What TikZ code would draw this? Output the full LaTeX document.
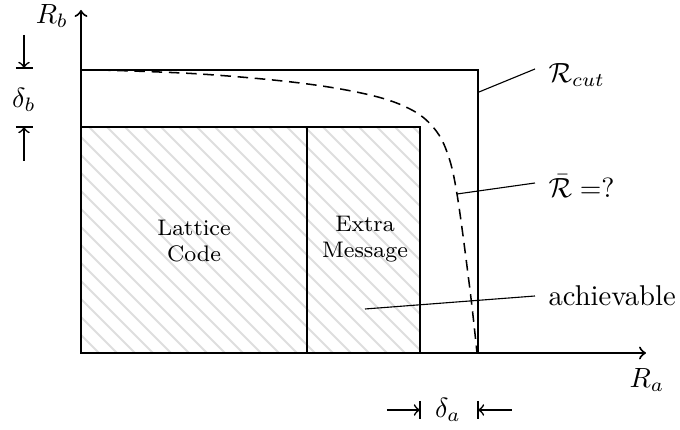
\documentclass[tikz,border=0pt]{standalone}
\usepackage{amsmath}
\begin{document}
\begin{tikzpicture}[x=0.36pt,y=-0.36pt,
  axis/.style={line width=0.75pt,->,>=to},
  box/.style={line width=0.95pt},
  leader/.style={line width=0.4pt},
  hatch/.style={line width=0.75pt,black!13},
  dim/.style={line width=0.6pt,->,>=to},
  lab/.style={font=\fontsize{10.3}{12.5}\selectfont,inner sep=0pt},
  inlab/.style={font=\fontsize{8.1}{9.3}\selectfont,align=center,inner sep=0pt}]
\useasboundingbox (0,0) rectangle (680,430);
% hatching
\begin{scope}
  \clip (81,127) rectangle (420,353);
  \foreach \c in {-290,-272,...,310}{
    \draw[hatch] (\c+120,120) -- (\c+360,360);
  }
\end{scope}
% rectangles
\draw[box] (81,70) -- (478,70) -- (478,353);
\draw[box] (81,127) rectangle (420,353);
\draw[box] (307,127) -- (307,353);
% dashed curve
\draw[line width=0.55pt,dash pattern=on 3.8pt off 2.4pt] plot[smooth,tension=0.6] coordinates
  {(100,70) (200,74) (300,83) (370,95) (410,109) (433,127) (447,152) (457,194) (470,290) (477,353)};
% axes
\coordinate (O) at (81,353);
\coordinate (Ytip) at (81,10);
\coordinate (Xtip) at (646,353);
\draw[axis] (O) -- (Ytip);
\draw[axis] (O) -- (Xtip);
\node[lab] (Rb) at (52,16) {$R_b$};
\node[lab] (Ra) at (647,380) {$R_a$};
% delta_b
\coordinate (b1s) at (24,35);
\coordinate (b1e) at (24,68);
\coordinate (b2s) at (24,161);
\coordinate (b2e) at (24,127);
\draw[dim] (b1s) -- (b1e);
\draw[line width=0.8pt] (16,68) -- (33,68);
\draw[dim] (b2s) -- (b2e);
\draw[line width=0.8pt] (16,127) -- (33,127);
\node[lab] (db) at (24,100) {$\delta_b$};
% delta_a
\coordinate (a1s) at (387,410);
\coordinate (a1e) at (420,410);
\coordinate (a2s) at (512,410);
\coordinate (a2e) at (478,410);
\draw[dim] (a1s) -- (a1e);
\draw[line width=0.8pt] (420,401) -- (420,419);
\draw[dim] (a2s) -- (a2e);
\draw[line width=0.8pt] (478,401) -- (478,419);
\node[lab] (da) at (448,410) {$\delta_a$};
% labels
\node[inlab] (lc) at (194,241) {Lattice\\Code};
\node[inlab] (em) at (365,239) {Extra\\Message};
\node[lab,anchor=west] (rcut) at (548,75) {$\mathcal{R}_{cut}$};
\node[lab,anchor=west] (rbar) at (548,186) {$\bar{\mathcal{R}}\mathrel{=}\mathrel{?}$};
\node[lab,anchor=west] (ach) at (548,296) {achievable};
\coordinate (p1) at (479,92);
\coordinate (p2) at (457,194);
\coordinate (p3) at (365,309);
\draw[leader] (p1) -- (535,69);
\draw[leader] (p2) -- (535,183);
\draw[leader] (p3) -- (535,296);
\end{tikzpicture}
\end{document}
